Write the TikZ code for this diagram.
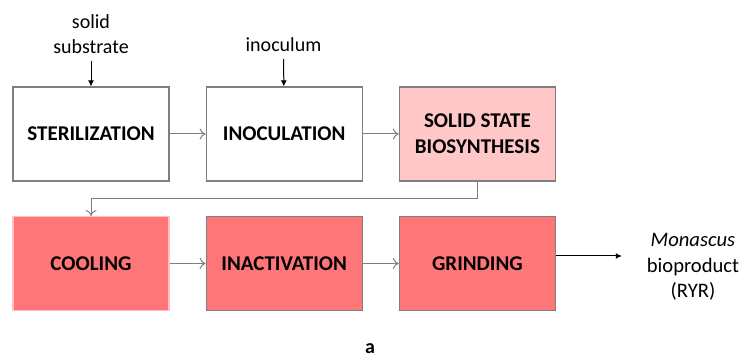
\documentclass[tikz,border=0pt]{standalone}
\usepackage{fontspec}
\setmainfont{Carlito}
\usepackage{xcolor}
\usepackage{tikz}
\usetikzlibrary{positioning,arrows.meta}
\definecolor{boxline}{HTML}{7F7F7F}
\definecolor{palered}{HTML}{FFC7C7}
\definecolor{strongred}{HTML}{FF7679}

\tikzset{
  stage/.style={draw=boxline,line width=0.6pt,minimum width=78pt,minimum height=47pt,
    inner sep=2pt,align=center,font=\fontsize{10.5}{13}\selectfont\bfseries},
  flow/.style={draw=boxline,line width=0.5pt,-{To[length=3pt,width=5.5pt]}},
  feed/.style={draw=black,line width=0.5pt,-{Latex[length=3pt,width=3pt]}},
  label/.style={align=center,font=\fontsize{10}{12.5}\selectfont}
}

\begin{document}
\begin{tikzpicture}[x=0.5pt,y=-0.5pt]
        \useasboundingbox (0,0) rectangle (741,356);
        % first row
        \node[stage] (steril) at (91,134) {STERILIZATION};
        \node[stage,right=18pt of steril] (inoc) {INOCULATION};
        \node[stage,fill=palered,right=18pt of inoc] (ssb) {SOLID STATE\\BIOSYNTHESIS};
        % second row
        \node[stage,fill=strongred,draw=strongred!45] (cool) at (91,263.5) {COOLING};
        \node[stage,fill=strongred,right=18pt of cool] (inact) {INACTIVATION};
        \node[stage,fill=strongred,right=18pt of inact] (grind) {GRINDING};
        % inputs and output
        \node[label] (substr) at (91,34) {solid\\substrate};
        \node[label] (inocul) at (283.5,45) {inoculum};
        \node[label,font=\fontsize{10.3}{12.8}\selectfont] (prod) at (693,267) {\textit{Monascus}\\bioproduct\\(RYR)};
        \node[font=\fontsize{10}{12}\selectfont\bfseries] (caption) at (370,349) {a};

        \draw[feed] (substr) -- (steril);
        \draw[feed] (inocul) -- (inoc);
        \draw[flow] (steril) -- (inoc);
        \draw[flow] (inoc) -- (ssb);
        \draw[flow] (ssb.south) -- ++(0,17) -| (cool.north);
        \draw[flow] (cool) -- (inact);
        \draw[flow] (inact) -- (grind);
        \coordinate (outend) at ([xshift=-9pt]prod.west |- 0,256);
        \draw[feed] (grind.east |- outend) -- (outend);
      \end{tikzpicture}
\end{document}
